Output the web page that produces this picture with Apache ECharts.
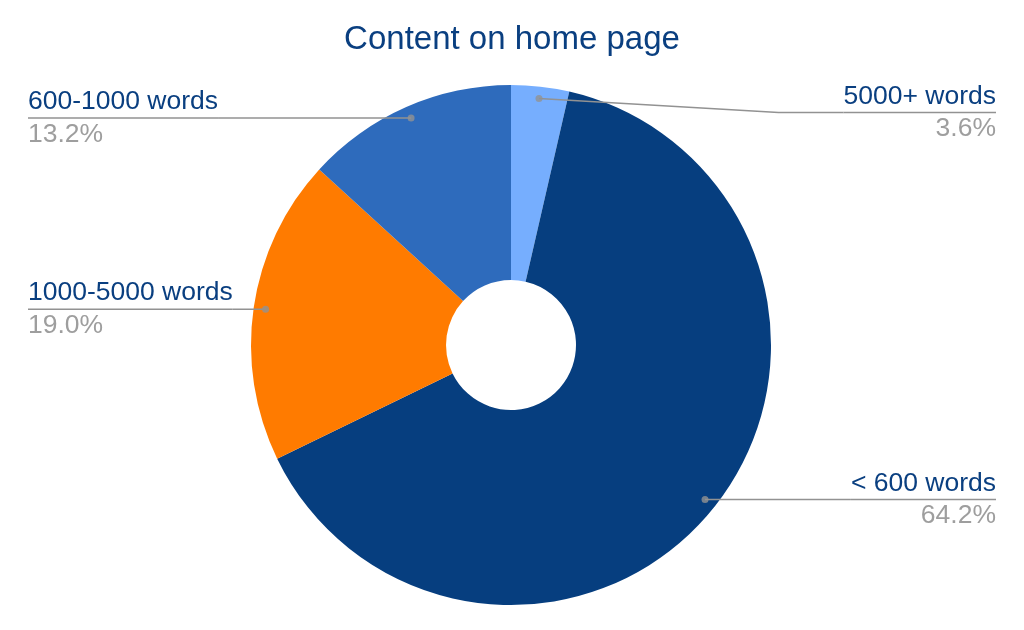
<!DOCTYPE html>
<html>
<head>
<meta charset="utf-8">
<script src="https://cdn.jsdelivr.net/npm/echarts@6/dist/echarts.min.js"></script>
<style>
html,body{margin:0;padding:0;background:#fff;}
#chart{width:1024px;height:630px;}
</style>
</head>
<body>
<div id="chart"></div>
<script>
// ---- data ----
var categories = ['5000+ words', '< 600 words', '1000-5000 words', '600-1000 words'];
var shares = [3.6, 64.2, 19.0, 13.2];
var sliceColors = ['#76aefe', '#063e7f', '#ff7b00', '#2e6bbc'];
var titleText = 'Content on home page';

var FONT = "'Liberation Sans', Arial, Helvetica, sans-serif";
var TEXT_BLUE = '#0a3f80';
var GRAY = '#9e9e9e';
var LINE_GRAY = '#929292';

var total = shares.reduce(function (a, b) { return a + b; }, 0);
var pieData = categories.map(function (c, i) {
  return { name: c, value: shares[i], itemStyle: { color: sliceColors[i] } };
});
var overlayData = categories.map(function (c, i) {
  return { name: c, value: shares[i], itemStyle: { color: 'rgba(0,0,0,0)' } };
});

// dot positions (mid-angle of each slice, just inside the outer edge) through a polar scale
var OUTER = 260, INNER = 65, DOT_INSET = 12;
var CENTER = [511, 345];
var dotData = [];
var acc = 0;
for (var i = 0; i < shares.length; i++) {
  var mid = acc + shares[i] / 2;
  dotData.push([OUTER - DOT_INSET, mid / total * 100]);
  acc += shares[i];
}

var chart = echarts.init(document.getElementById('chart'), null, { renderer: 'canvas' });
chart.setOption({
  animation: false,
  backgroundColor: '#ffffff',
  title: {
    text: titleText,
    left: 'center',
    top: 18,
    textStyle: { fontFamily: FONT, fontSize: 33, fontWeight: 'normal', color: TEXT_BLUE }
  },
  polar: { center: CENTER, radius: OUTER },
  angleAxis: { type: 'value', min: 0, max: 100, startAngle: 90, clockwise: true, show: false },
  radiusAxis: { type: 'value', min: 0, max: OUTER, show: false },
  series: [
    {
      type: 'pie',
      z: 2,
      center: CENTER,
      radius: [INNER, OUTER],
      startAngle: 90,
      clockwise: true,
      data: pieData,
      silent: true,
      emphasis: { disabled: true },
      itemStyle: { borderWidth: 0 },
      label: { show: false },
      labelLine: { show: false }
    },
    {
      type: 'pie',
      z: 4,
      center: CENTER,
      radius: [INNER, OUTER],
      startAngle: 90,
      clockwise: true,
      data: overlayData,
      silent: true,
      emphasis: { disabled: true },
      itemStyle: { borderWidth: 0 },
      label: {
        show: true,
        position: 'outside',
        alignTo: 'edge',
        edgeDistance: 28,
        distanceToLabelLine: 0,
        formatter: function (p) {
          return '{name|' + p.name + '}\n{hr|}\n{pct|' + (p.value / total * 100).toFixed(1) + '%}';
        },
        rich: {
          name: { fontFamily: FONT, fontSize: 26.5, color: TEXT_BLUE, lineHeight: 31 },
          hr: { backgroundColor: LINE_GRAY, width: '100%', height: 1.5 },
          pct: { fontFamily: FONT, fontSize: 26.5, color: GRAY, lineHeight: 31 }
        }
      },
      labelLine: {
        show: true,
        showAbove: true,
        length: -DOT_INSET,
        length2: 10,
        minTurnAngle: 0,
        maxSurfaceAngle: 180,
        lineStyle: { color: LINE_GRAY, width: 1.5 }
      },
      labelLayout: function (p) {
        var pts = p.labelLinePoints;
        if (!pts || pts.length !== 3) return {};
        if (p.dataIndex === 0) {
          // label pushed a little lower, with a slanted leader as in the reference
          var cy = p.labelRect.y + p.labelRect.height / 2 + 14;
          return {
            y: cy,
            labelLinePoints: [pts[1], [pts[2][0] - 65, cy], [pts[2][0], cy]]
          };
        }
        return { labelLinePoints: [pts[1], pts[2]] };
      }
    },
    {
      type: 'scatter',
      coordinateSystem: 'polar',
      data: dotData,
      symbol: 'circle',
      symbolSize: 7,
      silent: true,
      z: 6,
      itemStyle: { color: LINE_GRAY }
    }
  ]
});
</script>
</body>
</html>
